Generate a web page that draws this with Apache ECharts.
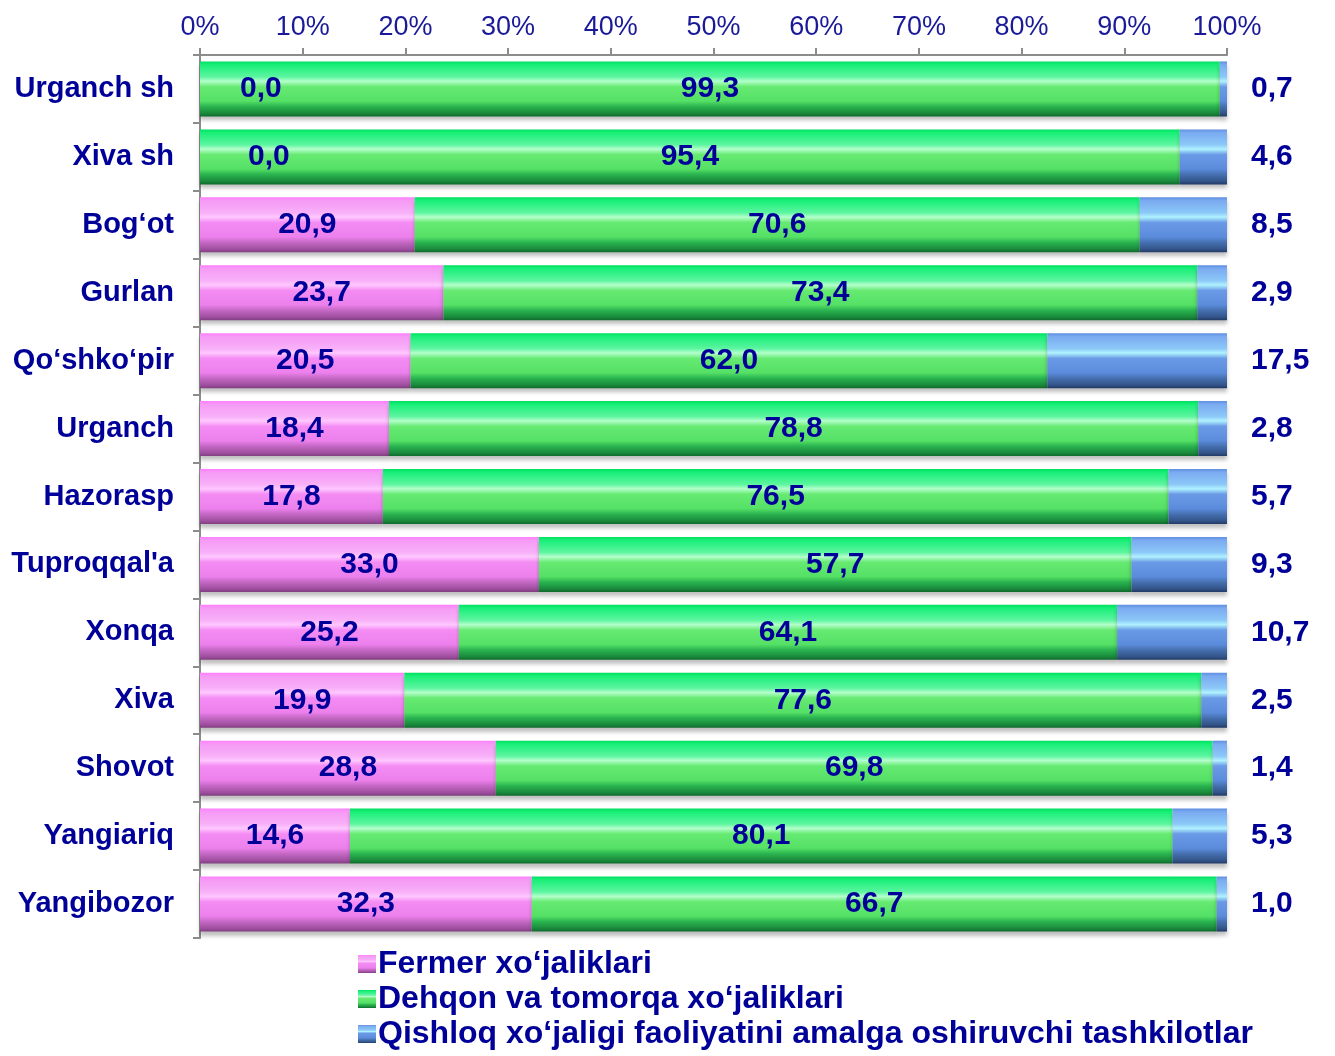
<!DOCTYPE html>
<html>
<head>
<meta charset="utf-8">
<script src="https://cdn.jsdelivr.net/npm/echarts@6/dist/echarts.min.js"></script>
<style>
html,body{margin:0;padding:0;background:#fff;}
#chart{width:1335px;height:1056px;}
</style>
</head>
<body>
<div id="chart"></div>
<script>
const categories = ["Urganch sh","Xiva sh","Bog‘ot","Gurlan","Qo‘shko‘pir","Urganch","Hazorasp","Tuproqqal'a","Xonqa","Xiva","Shovot","Yangiariq","Yangibozor"];
const fermer = [0.0, 0.0, 20.9, 23.7, 20.5, 18.4, 17.8, 33.0, 25.2, 19.9, 28.8, 14.6, 32.3];
const dehqon = [99.3, 95.4, 70.6, 73.4, 62.0, 78.8, 76.5, 57.7, 64.1, 77.6, 69.8, 80.1, 66.7];
const tashkilot = [0.7, 4.6, 8.5, 2.9, 17.5, 2.8, 5.7, 9.3, 10.7, 2.5, 1.4, 5.3, 1.0];
const seriesNames = ["Fermer xo‘jaliklari", "Dehqon va tomorqa xo‘jaliklari", "Qishloq xo‘jaligi faoliyatini amalga oshiruvchi tashkilotlar"];
const xTicks = [0, 10, 20, 30, 40, 50, 60, 70, 80, 90, 100];

const NAVY = '#000099';
const FONT = 'Liberation Sans, Arial, sans-serif';
function grad(stops){
  return new echarts.graphic.LinearGradient(0,0,0,1, stops.map(s=>({offset:s[0],color:s[1]})));
}
const pinkGrad = grad([[0,'#ff7eff'],[0.06,'#f59af5'],[0.28,'#f8b0f8'],[0.36,'#ffc8ff'],[0.46,'#f48cf4'],[0.72,'#ec80ec'],[0.82,'#c468c4'],[0.94,'#a04fa0'],[1,'#7f3f7f']]);
const greenGrad = grad([[0,'#00e060'],[0.06,'#18ef78'],[0.28,'#5df5a0'],[0.36,'#b4ffcc'],[0.46,'#66ea72'],[0.72,'#55e066'],[0.82,'#2ab450'],[0.94,'#1a8a3c'],[1,'#0f6a2c']]);
const blueGrad = grad([[0,'#5f8fe0'],[0.06,'#7aaaf0'],[0.28,'#8cc8f8'],[0.36,'#b0f2ff'],[0.46,'#6a9ae6'],[0.72,'#5b8cdc'],[0.82,'#4670b0'],[0.94,'#33558a'],[1,'#223a66']]);

const labelFont = {fontFamily:FONT, fontWeight:'bold', fontSize:30, color:NAVY};
const fmt = p => p.value.toFixed(1).replace('.',',');

const fermerData = fermer.map((v,i)=> v === 0
  ? {value:v, label:{position:'right', distance: i===0 ? 40 : 48}}
  : {value:v});

const chart = echarts.init(document.getElementById('chart'), null, {renderer:'canvas'});
chart.setOption({
  animation:false,
  backgroundColor:'#fff',
  grid:{left:200, right:108, top:55, bottom:118, containLabel:false},
  xAxis:{
    type:'value', position:'top', min:0, max:100, interval:10,
    axisLine:{show:true, lineStyle:{color:'#8c8c8c', width:2}},
    axisTick:{show:true, length:7, lineStyle:{color:'#8c8c8c', width:2}},
    splitLine:{show:false},
    axisLabel:{formatter: v => xTicks.includes(v) ? v + '%' : '', margin:14, fontFamily:FONT, fontSize:27, color:'#1a1a99'}
  },
  yAxis:{
    type:'category', data:categories, inverse:true,
    axisLine:{show:true, lineStyle:{color:'#8c8c8c', width:2}},
    axisTick:{show:true, length:7, lineStyle:{color:'#8c8c8c', width:2}},
    axisLabel:{margin:26, fontFamily:FONT, fontWeight:'bold', fontSize:29, color:NAVY}
  },
  legend:{
    orient:'vertical', left:353, top:943, itemWidth:18, itemHeight:18, itemGap:3,
    icon:'rect',
    textStyle:{fontFamily:FONT, fontWeight:'bold', fontSize:32, color:NAVY, lineHeight:32, padding:[0,0,0,-3]},
    data:seriesNames
  },
  series:[
    {name:seriesNames[0], type:'bar', stack:'s', barWidth:'81%', data:fermerData,
     itemStyle:{color:pinkGrad, shadowColor:'rgba(0,0,0,0.25)', shadowBlur:4, shadowOffsetY:4},
     label:Object.assign({show:true, position:'inside', formatter:fmt}, labelFont)},
    {name:seriesNames[1], type:'bar', stack:'s', data:dehqon,
     itemStyle:{color:greenGrad, shadowColor:'rgba(0,0,0,0.25)', shadowBlur:4, shadowOffsetY:4},
     label:Object.assign({show:true, position:'inside', formatter:fmt}, labelFont)},
    {name:seriesNames[2], type:'bar', stack:'s', data:tashkilot,
     itemStyle:{color:blueGrad, shadowColor:'rgba(0,0,0,0.25)', shadowBlur:4, shadowOffsetY:4},
     label:Object.assign({show:true, position:'right', distance:24, formatter:fmt}, labelFont)}
  ]
});
</script>
</body>
</html>
